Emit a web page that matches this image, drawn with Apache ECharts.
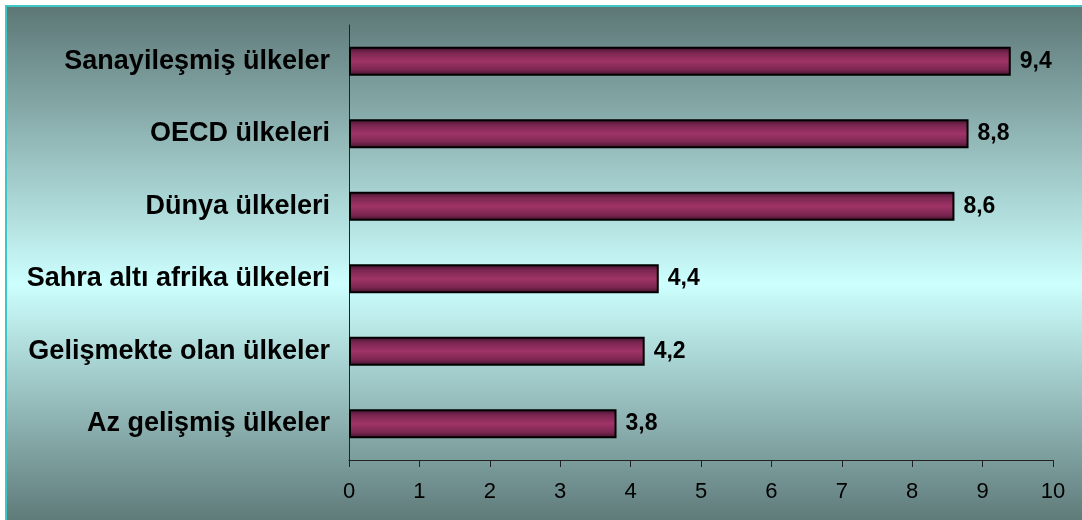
<!DOCTYPE html>
<html><head><meta charset="utf-8">
<script src="https://cdn.jsdelivr.net/npm/echarts@6/dist/echarts.min.js"></script>
<style>html,body{margin:0;padding:0;background:#fff}#c{width:1082px;height:520px}</style>
</head><body><div id="c"></div>
<script>
const categories = ["Sanayileşmiş ülkeler","OECD ülkeleri","Dünya ülkeleri","Sahra altı afrika ülkeleri","Gelişmekte olan ülkeler","Az gelişmiş ülkeler"];
const values = [9.4, 8.8, 8.6, 4.4, 4.2, 3.8];
const xTicks = [0,1,2,3,4,5,6,7,8,9,10];

const chart = echarts.init(document.getElementById('c'));
const font = "'Liberation Sans', Arial, sans-serif";
chart.setOption({
  backgroundColor: '#ffffff',
  animation: false,
  graphic: [
    {type:'rect', z:-20, silent:true, shape:{x:5,y:5,width:1077,height:515}, style:{fill:'#3fc6c4'}},
    {type:'rect', z:-19, silent:true, shape:{x:7,y:7,width:1075,height:513},
      style:{fill:new echarts.graphic.LinearGradient(0,0,0,1,[
        {offset:0,color:'#5c7776'},
        {offset:0.54,color:'#ccfffe'},
        {offset:1,color:'#5f7b7a'}])}}
  ],
  grid: {left:349, right:29, top:25, bottom:60, containLabel:false},
  xAxis: {
    type:'value', min:0, max:10, interval:1,
    axisLine:{show:true, lineStyle:{color:'#222', width:1}},
    axisTick:{show:true, inside:false, length:7, lineStyle:{color:'#222'}},
    splitLine:{show:false},
    axisLabel:{color:'#000', fontFamily:font, fontSize:22, margin:21,
      formatter:v=>String(xTicks[v] !== undefined ? xTicks[v] : v)}
  },
  yAxis: {
    type:'category', data:categories, inverse:true,
    axisLine:{show:true, lineStyle:{color:'#222', width:1}},
    axisTick:{show:false},
    axisLabel:{color:'#000', fontFamily:font, fontSize:27, fontWeight:'bold', margin:19}
  },
  series: [{
    type:'bar', data:values, barWidth:29,
    itemStyle:{
      color:new echarts.graphic.LinearGradient(0,0,0,1,[
        {offset:0,color:'#3a1028'},
        {offset:0.2,color:'#7a2650'},
        {offset:0.5,color:'#a03467'},
        {offset:0.8,color:'#7a2650'},
        {offset:1,color:'#3a1028'}]),
      borderColor:'#000', borderWidth:2
    },
    label:{show:true, position:'right', distance:9, color:'#000', fontFamily:font,
      fontSize:23, fontWeight:'bold', formatter:p=>String(p.value).replace('.',',')}
  }]
});
</script></body></html>
